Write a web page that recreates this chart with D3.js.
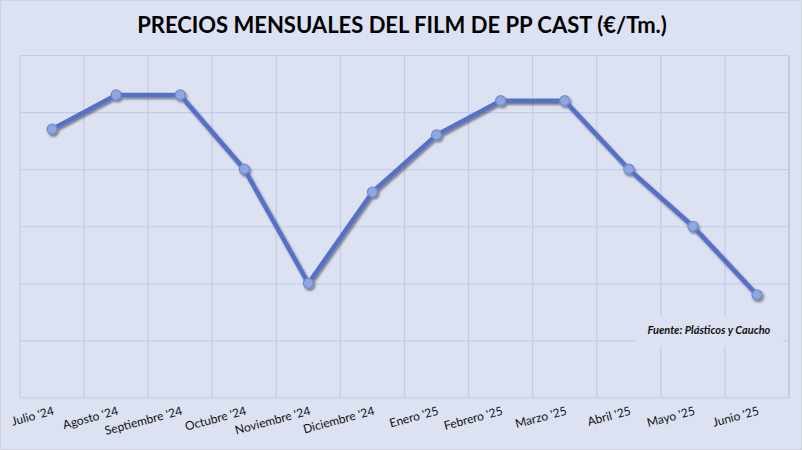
<!DOCTYPE html>
<html lang="es">

<head>
    <meta charset="UTF-8">
    <title>Precios mensuales del film de PP cast</title>
    <style>
        * {
            margin: 0;
            padding: 0;
        }

        body {
            background: #fff;
        }
    </style>
</head>

<body>
    <div id="chart"></div>
    <script src="https://cdn.jsdelivr.net/npm/d3@7"></script>
    <script>
        const months = [
            "Julio '24", "Agosto '24", "Septiembre '24", "Octubre '24", "Noviembre '24", "Diciembre '24",
            "Enero '25", "Febrero '25", "Marzo '25", "Abril '25", "Mayo '25", "Junio '25"
        ]
        // €/Tm (sin etiquetas en el eje)
        const prices = [1935, 1965, 1965, 1900, 1800, 1880, 1930, 1960, 1960, 1900, 1850, 1790]
        const yTicks = [1700, 1750, 1800, 1850, 1900, 1950, 2000]

        const dataset = months.map((m, i) => ({ month: m, price: prices[i] }))

        const width = 802
        const height = 450
        const margin = { top: 55, right: 13, bottom: 52.5, left: 20 }

        const svg = d3.select('#chart')
            .append('svg')
            .attr('width', width)
            .attr('height', height)
            .style('display', 'block')

        // sombra de la línea y los puntos
        const defs = svg.append('defs')
        const shadow = defs.append('filter')
            .attr('id', 'shadow')
            .attr('x', '-20%').attr('y', '-20%')
            .attr('width', '140%').attr('height', '140%')
        shadow.append('feDropShadow')
            .attr('dx', 1.5)
            .attr('dy', 2)
            .attr('stdDeviation', 1.2)
            .attr('flood-color', '#000')
            .attr('flood-opacity', 0.45)

        svg.append('rect')
            .attr('x', 0.5)
            .attr('y', 0.5)
            .attr('width', width - 1)
            .attr('height', height - 1)
            .attr('fill', '#dce2f2')
            .attr('stroke', '#cfd3dc')

        const x = d3.scaleBand()
            .domain(months)
            .range([margin.left, width - margin.right])

        const y = d3.scaleLinear()
            .domain([1700, 2000])
            .range([height - margin.bottom, margin.top])

        // cuadrícula horizontal
        svg.append('g')
            .attr('transform', `translate(${margin.left}, 0)`)
            .call(d3.axisLeft(y).tickValues(yTicks).tickSize(-(width - margin.left - margin.right)).tickFormat(''))
            .call(g => g.select('.domain').remove())
            .call(g => g.selectAll('line').attr('stroke', '#bfcdec').attr('stroke-width', 1.2))

        // cuadrícula vertical (bordes de cada categoría)
        const edges = months.map(m => x(m)).concat([x.range()[1]])
        svg.append('g')
            .selectAll('line')
            .data(edges)
            .join('line')
            .attr('x1', d => d)
            .attr('x2', d => d)
            .attr('y1', y(2000))
            .attr('y2', y(1700))
            .attr('stroke', '#bfcdec')
            .attr('stroke-width', 1.2)

        // borde derecho y eje inferior
        svg.append('line')
            .attr('x1', x.range()[1]).attr('x2', x.range()[1])
            .attr('y1', y(2000)).attr('y2', y(1700))
            .attr('stroke', '#c5cbdb')
            .attr('stroke-width', 2)

        svg.append('line')
            .attr('x1', margin.left).attr('x2', x.range()[1])
            .attr('y1', y(1700)).attr('y2', y(1700))
            .attr('stroke', '#d3d5dc')
            .attr('stroke-width', 1.5)

        // etiquetas del eje X
        svg.append('g')
            .selectAll('text')
            .data(months)
            .join('text')
            .attr('transform', d => `translate(${x(d) + x.bandwidth() / 2 + 2}, ${y(1700) + 14}) rotate(-15)`)
            .attr('text-anchor', 'end')
            .attr('dominant-baseline', 'middle')
            .text(d => d)
            .style('font-family', 'Lato, "Open Sans", sans-serif')
            .style('font-size', '12px')
            .attr('fill', '#111')

        // cuadro de la fuente
        svg.append('rect')
            .attr('x', 635)
            .attr('y', 316)
            .attr('width', 148)
            .attr('height', 30)
            .attr('fill', '#dce2f2')

        svg.append('text')
            .attr('x', 709)
            .attr('y', 331)
            .attr('text-anchor', 'middle')
            .attr('dominant-baseline', 'middle')
            .text('Fuente: Plásticos y Caucho')
            .style('font-family', 'Lato, "Open Sans", sans-serif')
            .style('font-size', '11px')
            .style('font-weight', 700)
            .style('font-style', 'italic')
            .attr('fill', '#111')

        // línea de precios
        const line = d3.line()
            .x(d => x(d.month) + x.bandwidth() / 2)
            .y(d => y(d.price))

        const plot = svg.append('g')
            .attr('filter', 'url(#shadow)')

        plot.append('path')
            .datum(dataset)
            .attr('d', line)
            .attr('fill', 'none')
            .attr('stroke', '#5471c7')
            .attr('stroke-width', 4.5)
            .attr('stroke-linejoin', 'round')

        plot.selectAll('circle')
            .data(dataset)
            .join('circle')
            .attr('cx', d => x(d.month) + x.bandwidth() / 2)
            .attr('cy', d => y(d.price))
            .attr('r', 5)
            .attr('fill', '#8fa6de')
            .attr('stroke', '#6d89d3')
            .attr('stroke-width', 1.2)

        // título
        svg.append('text')
            .attr('x', width / 2 + 1)
            .attr('y', 27)
            .attr('text-anchor', 'middle')
            .attr('dominant-baseline', 'middle')
            .text('PRECIOS MENSUALES DEL FILM DE PP CAST (€/Tm.)')
            .style('font-family', 'Lato, "Open Sans", sans-serif')
            .style('font-size', '22px')
            .style('font-weight', 700)
            .attr('fill', '#000')
    </script>
</body>

</html>
